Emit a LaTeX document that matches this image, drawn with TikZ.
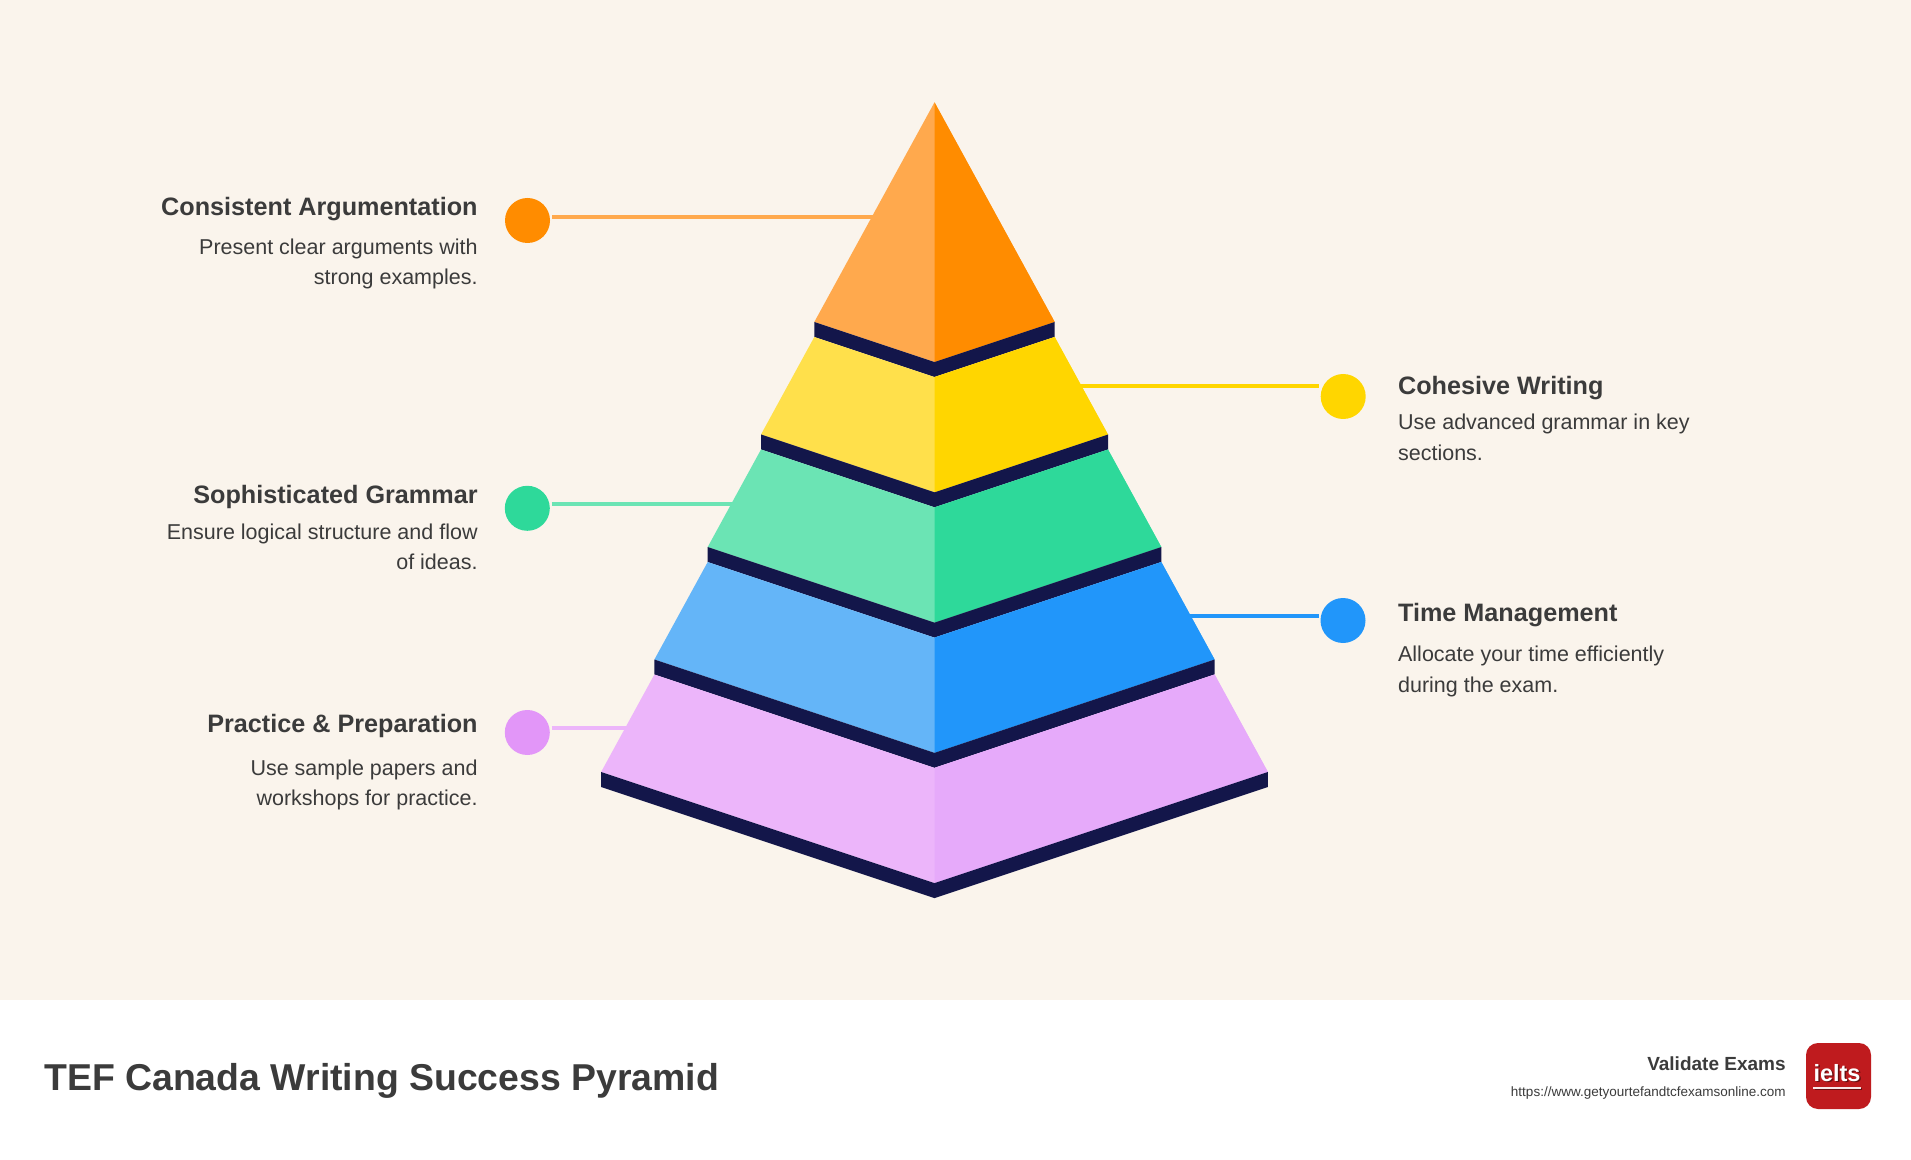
\documentclass[tikz,border=0pt]{standalone}
\usepackage{fontspec}
\setmainfont{Liberation Sans}
\usepackage{xcolor}
\usepackage{tikz}
\usetikzlibrary{positioning,calc}

\definecolor{bgcream}{HTML}{FAF4EC}
\definecolor{txtdark}{HTML}{3B3B3B}
\definecolor{navyband}{HTML}{13164A}
\definecolor{orgL}{HTML}{FFA94D}
\definecolor{orgR}{HTML}{FF8C00}
\definecolor{ylwL}{HTML}{FFE04B}
\definecolor{ylwR}{HTML}{FFD600}
\definecolor{grnL}{HTML}{6BE4B4}
\definecolor{grnR}{HTML}{2ED99A}
\definecolor{bluL}{HTML}{64B5F8}
\definecolor{bluR}{HTML}{2196FA}
\definecolor{pnkL}{HTML}{ECB5FA}
\definecolor{pnkR}{HTML}{E6AAFA}
\definecolor{pnkdot}{HTML}{E296F8}
\definecolor{logored}{HTML}{BF1B1E}

\begin{document}
\begin{tikzpicture}[
					x = 0.5pt, y = -0.5pt,
					declare function = {
						hw(\i) = 120.2+53.3*\i;
						yb(\i) = 322+112.5*\i;
					},
					dot/.style = {circle, fill=#1, minimum size=22.5pt, inner sep=0pt, outer sep=1pt},
					conn/.style = {line width=2pt, draw=#1},
					head/.style = {font=\fontsize{12.6}{15}\selectfont\bfseries, text=txtdark, inner sep=0pt},
					desc/.style = {font=\fontsize{10.75}{15.1}\selectfont, text=txtdark, inner sep=0pt, align=#1},
					]

					\def\cx{934.5}
					\def\band{15}

					\fill[bgcream] (0,0) rectangle (1911,1000);
					\fill[white] (0,1000) rectangle (1911,1160);
					\useasboundingbox (0,0) rectangle (1911,1160);

					% tiers, light face first, dark face over it, then the navy band
					\foreach \i/\lc/\rc in {0/orgL/orgR,1/ylwL/ylwR,2/grnL/grnR,3/bluL/bluR,4/pnkL/pnkR}{
						\pgfmathsetmacro{\wb}{hw(\i)}
						\pgfmathsetmacro{\ybot}{yb(\i)}
						\ifnum\i=0
							\def\tw{0}\def\ytop{102.3}
						\else
							\pgfmathsetmacro{\tw}{hw(\i-1)}
							\pgfmathsetmacro{\ytop}{yb(\i-1)+\band}
						\fi
						\fill[\lc] (\cx,\ytop+\tw/3) -- (\cx-\tw,\ytop) -- (\cx-\wb,\ybot) -- (\cx,\ybot+\wb/3)
							-- (\cx+\wb,\ybot) -- (\cx+\tw,\ytop) -- cycle;
						\fill[\rc] (\cx,\ytop+\tw/3) -- (\cx,\ybot+\wb/3) -- (\cx+\wb,\ybot) -- (\cx+\tw,\ytop) -- cycle;
						\fill[navyband] (\cx-\wb,\ybot) -- (\cx,\ybot+\wb/3) -- (\cx+\wb,\ybot) -- (\cx+\wb,\ybot+\band)
							-- (\cx,\ybot+\wb/3+\band) -- (\cx-\wb,\ybot+\band) -- cycle;
					}

					% left labels (desc nodes sit on their last line)
					\node[dot=orgR] (argdot) at (527.5,220.5) {};
					\node[head, anchor=base east] (arghead) at (478,216) {Consistent Argumentation};
					\node[desc=right, anchor=base east] (argdesc) at (478,284.3) {Present clear arguments with\\strong examples.};
					\coordinate (argend) at (879,216.7);
					\draw[conn=orgL] (argdot.east |- argend) -- (argend);

					\node[dot=grnR] (gramdot) at (527.3,508.3) {};
					\node[head, anchor=base east] (gramhead) at (478,503.3) {Sophisticated Grammar};
					\node[desc=right, anchor=base east] (gramdesc) at (478,569.3) {Ensure logical structure and flow\\of ideas.};
					\coordinate (gramend) at (739,504);
					\draw[conn=grnL] (gramdot.east |- gramend) -- (gramend);

					\node[dot=pnkdot] (pracdot) at (527.3,732.5) {};
					\node[head, anchor=base east] (prachead) at (478,732.3) {Practice \& Preparation};
					\node[desc=right, anchor=base east] (pracdesc) at (478,805.5) {Use sample papers and\\workshops for practice.};
					\coordinate (pracend) at (630,727.7);
					\draw[conn=pnkL] (pracdot.east |- pracend) -- (pracend);

					% right labels
					\node[dot=ylwR] (cohdot) at (1343.2,396.5) {};
					\node[head, anchor=base west] (cohhead) at (1397.7,394.3) {Cohesive Writing};
					\node[desc=left, anchor=base west] (cohdesc) at (1397.7,460) {Use advanced grammar in key\\sections.};
					\coordinate (cohend) at (1079,385.7);
					\draw[conn=ylwR] (cohend) -- (cohend -| cohdot.west);

					\node[dot=bluR] (timedot) at (1343,620.5) {};
					\node[head, anchor=base west] (timehead) at (1397.7,621.7) {Time Management};
					\node[desc=left, anchor=base west] (timedesc) at (1397.7,692) {Allocate your time efficiently\\during the exam.};
					\coordinate (timeend) at (1188,615.7);
					\draw[conn=bluR] (timeend) -- (timeend -| timedot.west);

					% footer
					\node[font=\fontsize{18.7}{22}\selectfont\bfseries, text=txtdark, anchor=base west, inner sep=0pt] (title) at (43.9,1090) {TEF Canada Writing Success Pyramid};
					\node[font=\fontsize{9.5}{11}\selectfont\bfseries, text=txtdark, anchor=base east, inner sep=0pt] (brand) at (1786,1070) {Validate Exams};
					\node[font=\fontsize{6.75}{8}\selectfont, text=txtdark, anchor=base east, inner sep=0pt] (url) at (1786,1096) {https://www.getyourtefandtcfexamsonline.com};

					\node[fill=logored, rounded corners=6pt, minimum width=32.5pt, minimum height=33pt, inner sep=0pt] (logo) at (1838.5,1076) {};
					\node[font=\fontsize{11.75}{13}\selectfont\bfseries, text=logored!55!black, anchor=base, inner sep=0pt] at (1838.5,1082.5) {ielts};
					\node[font=\fontsize{11.75}{13}\selectfont\bfseries, text=white, anchor=base, inner sep=0pt] (logotxt) at (1837,1081) {ielts};
					\draw[logored!55!black, line width=1pt] ($(logotxt.base west)+(1.5,8)$) -- ($(logotxt.base east)+(1.5,8)$);
					\draw[white!90!logored, line width=1pt] ($(logotxt.base west)+(0,6.5)$) -- ($(logotxt.base east)+(0,6.5)$);

				\end{tikzpicture}
\end{document}
